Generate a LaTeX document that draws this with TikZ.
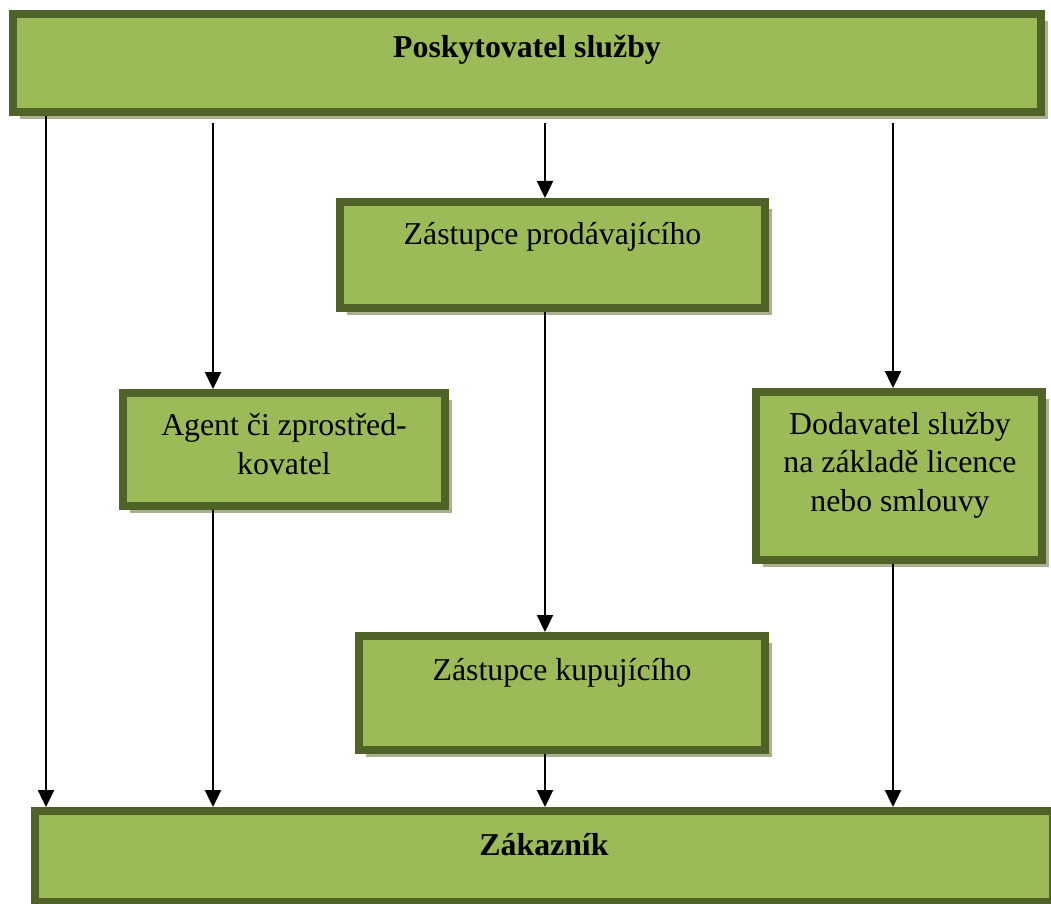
\documentclass[tikz,border=0pt]{standalone}
\usepackage{fontspec}
\setmainfont{Liberation Serif}
\usetikzlibrary{arrows.meta,positioning,shadows}
\definecolor{BoxGreen}{HTML}{9BBB59}
\definecolor{BoxBorder}{HTML}{4F6228}
\definecolor{BoxShadow}{HTML}{A9B18F}

\begin{document}
\begin{tikzpicture}[x=0.5pt, y=-0.5pt,
  box/.style={rectangle, draw=BoxBorder, fill=BoxGreen, line width=4pt, inner sep=0pt,
    drop shadow={shadow xshift=3.5pt, shadow yshift=-3.5pt, fill=BoxShadow, opacity=1}},
  lbl/.style={font=\fontsize{15.9pt}{19.25pt}\selectfont, align=center, inner sep=0pt},
  flow/.style={-{Triangle[width=8pt,length=8.5pt]}, line width=1.2pt, black}]
  \useasboundingbox (0,0) rectangle (1051,904);
  % Boxes
  \node[box, minimum width=514pt, minimum height=49pt] (tp) at (527,63) {};
  \node[box, minimum width=212.5pt, minimum height=53pt] (zp) at (552.5,255) {};
  \node[box, minimum width=161pt, minimum height=56.5pt] (ag) at (284,449.5) {};
  \node[box, minimum width=143pt, minimum height=84pt] (dd) at (899,476) {};
  \node[box, minimum width=203pt, minimum height=57pt] (kp) at (562,693) {};
  \node[box, minimum width=509pt, minimum height=45.5pt] (zk) at (544,856.5) {};
  % Labels
  \node[lbl, anchor=base, font=\fontsize{15.9pt}{19.25pt}\selectfont\bfseries] (tpT) at (527,58) {Poskytovatel služby};
  \node[lbl, anchor=base] (zpT) at (552.5,245) {Zástupce prodávajícího};
  \node[lbl] (agT) at (284,444) {Agent či zprostřed-\\kovatel};
  \node[lbl] (ddT) at (900,465) {Dodavatel služby\\na základě licence\\nebo smlouvy};
  \node[lbl, anchor=base] (kpT) at (562,680) {Zástupce kupujícího};
  \node[lbl, anchor=base, font=\fontsize{15.9pt}{19.25pt}\selectfont\bfseries] (zkT) at (544,855) {Zákazník};
  % Arrows
  \coordinate (xa) at (46,0);
  \coordinate (xb) at (213,0);
  \coordinate (xc) at (545,0);
  \coordinate (xd) at (893,0);
  \draw[flow] (tp.south -| xa) -- (zk.north -| xa);
  \draw[flow, shorten <=3.5pt] (tp.south -| xb) -- (ag.north -| xb);
  \draw[flow] (ag.south -| xb) -- (zk.north -| xb);
  \draw[flow, shorten <=3.5pt] (tp.south -| xc) -- (zp.north -| xc);
  \draw[flow] (zp.south -| xc) -- (kp.north -| xc);
  \draw[flow] (kp.south -| xc) -- (zk.north -| xc);
  \draw[flow, shorten <=3.5pt] (tp.south -| xd) -- (dd.north -| xd);
  \draw[flow] (dd.south -| xd) -- (zk.north -| xd);
\end{tikzpicture}
\end{document}
